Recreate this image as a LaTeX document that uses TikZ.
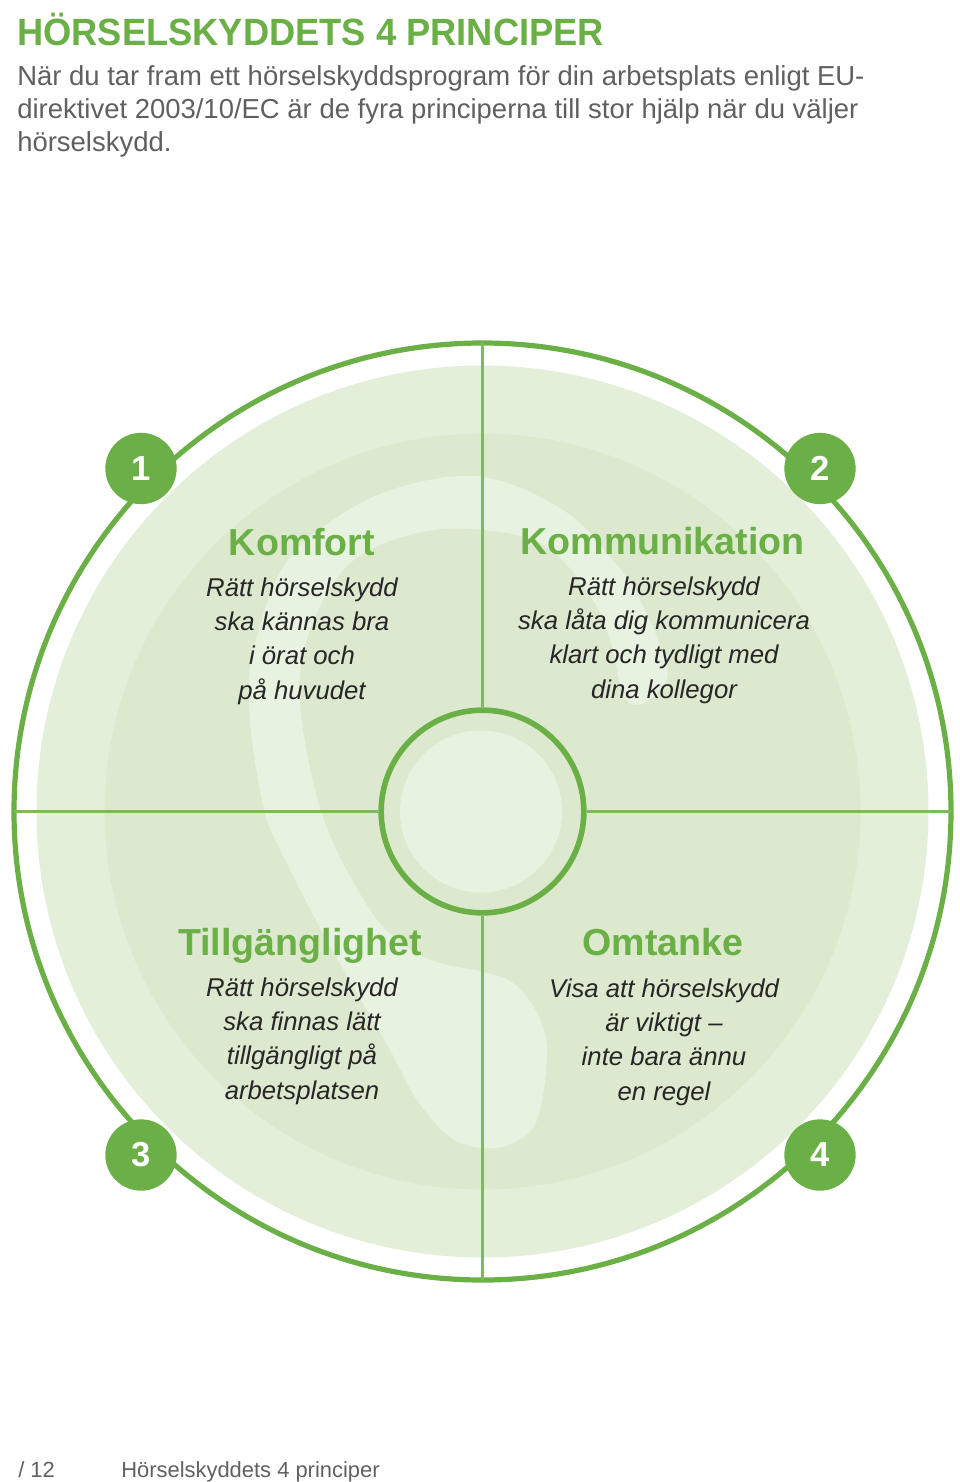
\documentclass[tikz,border=0pt]{standalone}
\usepackage{fontspec}
\setmainfont{Liberation Sans}
\newfontfamily\narrowfont[FakeStretch=0.955]{Liberation Sans}
\usepackage{tikz}
\definecolor{earthgreen}{HTML}{6BAF47}
\definecolor{thingreen}{HTML}{7DB863}
\definecolor{paleband}{HTML}{E3EFD9}
\definecolor{midband}{HTML}{DDE9CF}
\definecolor{earband}{HTML}{E8F2E0}
\definecolor{introgrey}{HTML}{5F6062}
\tikzset{every picture/.style={x=0.75pt,y=-0.75pt},
  every node/.style={inner sep=0pt},
  numdot/.style={circle,fill=earthgreen,minimum size=53.5pt,text=white,font=\bfseries\fontsize{26}{26}\selectfont},
  hub/.style={circle,draw=earthgreen,line width=4.2pt,fill=midband,minimum size=152pt},
  head/.style={anchor=base,text=earthgreen,font=\bfseries\fontsize{28.2}{30}\selectfont},
  body/.style={anchor=base,align=center,text=black!85,font=\itshape\fontsize{19.3}{25.6}\selectfont},
  intro/.style={anchor=base west,align=left,text=introgrey,font=\fontsize{20.6}{24.7}\selectfont},
  foot/.style={anchor=base west,text=introgrey,font=\fontsize{16.45}{18}\selectfont},
  spoke/.style={draw=thingreen,line width=1.9pt}}

\begin{document}
\begin{tikzpicture}
      \useasboundingbox (0,0) rectangle (960,1482);

      \fill[paleband] (482.5,811.5) circle (446);
      \fill[midband] (482.5,811.5) circle (378);
      \fill[earband] plot[smooth cycle,tension=0.6] coordinates {
        (483,477) (400,487) (333,520) (283,567) (253,653) (250,720) (263,805)
        (277,843) (323,933) (390,1050) (417,1100) (450,1137) (483,1148)
        (513,1143) (537,1120) (547,1053) (537,1013) (513,983) (483,972)
        (440,963) (407,947) (370,910) (323,817) (300,703) (310,630) (350,563)
        (417,533) (483,530) (547,547) (593,600) (610,640) (623,693) (637,705)
        (657,693) (667,667) (640,600) (613,560) (563,510)};
      \draw[earthgreen,line width=3.9pt] (482.5,811.5) circle (468.5);

      \coordinate (rimN) at (482.5,343);
      \coordinate (rimS) at (482.5,1280);
      \coordinate (rimW) at (14,811.5);
      \coordinate (rimE) at (951,811.5);
      \node[hub] (hub) at (482.5,811.5){};
      \fill[earband] (481,811.5) circle (81);

      \draw[spoke](hub.north)--(rimN);
      \draw[spoke](hub.south)--(rimS);
      \draw[spoke](hub.west)--(rimW);
      \draw[spoke](hub.east)--(rimE);

      \node[numdot] (n1) at (141,468.5){1};
      \node[numdot] (n2) at (820,468.5){2};
      \node[numdot] (n3) at (141,1155){3};
      \node[numdot] (n4) at (820,1155){4};

      \node[anchor=base west,text=earthgreen,font=\narrowfont\bfseries\fontsize{28.5}{30}\selectfont] (title) at (17,45){HÖRSELSKYDDETS 4 PRINCIPER};
      \node[intro] (introtext) at (17,151){När du tar fram ett hörselskyddsprogram för din arbetsplats enligt EU-\\direktivet 2003/10/EC är de fyra principerna till stor hjälp när du väljer\\hörselskydd.};

      \node[head] (h1) at (302,555){Komfort};
      \node[head] (h2) at (662.5,554){Kommunikation};
      \node[head] (h3) at (300,955){Tillgänglighet};
      \node[head] (h4) at (663,955){Omtanke};

      \node[body] (b1) at (302,699){Rätt hörselskydd\\ska kännas bra\\i örat och\\på huvudet};
      \node[body] (b2) at (664,698){Rätt hörselskydd\\ska låta dig kommunicera\\klart och tydligt med\\dina kollegor};
      \node[body] (b3) at (302,1099){Rätt hörselskydd\\ska finnas lätt\\tillgängligt på\\arbetsplatsen};
      \node[body] (b4) at (664,1100){Visa att hörselskydd\\är viktigt –\\inte bara ännu\\en regel};

      \node[foot] (pagenum) at (18,1477){/ 12};
      \node[foot] (pagetitle) at (121,1477){Hörselskyddets 4 principer};
    \end{tikzpicture}
\end{document}
